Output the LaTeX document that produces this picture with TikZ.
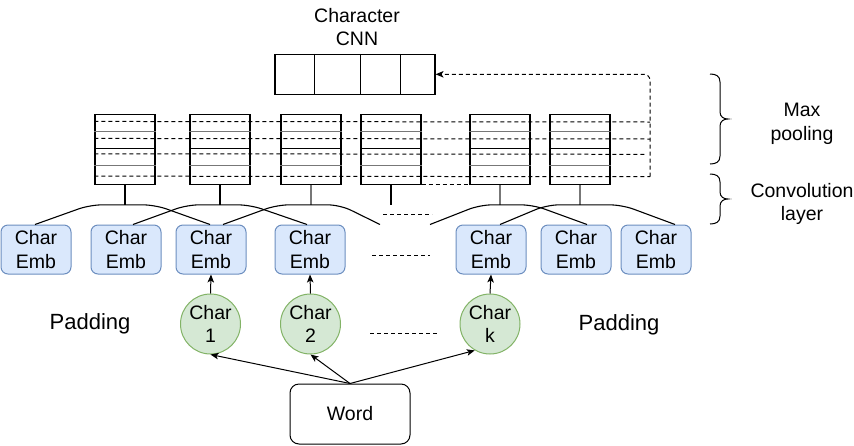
\documentclass[tikz,border=0pt]{standalone}
\usepackage{fontspec}
\setmainfont{Liberation Sans}
\usetikzlibrary{arrows.meta,calc}
\definecolor{embfill}{HTML}{DAE8FC}
\definecolor{embdraw}{HTML}{6C8EBF}
\definecolor{charfill}{HTML}{D5E8D4}
\definecolor{chardraw}{HTML}{82B366}
\definecolor{midgray}{HTML}{777777}
\begin{document}
\begin{tikzpicture}[x=1pt,y=-1pt,
  every node/.style={font=\fontsize{19.5}{23.5}\selectfont, inner sep=0pt},
  emb/.style={draw=embdraw, fill=embfill, rounded corners=7pt, minimum width=70pt, minimum height=49pt, align=center, line width=1pt},
  chr/.style={circle, draw=chardraw, fill=charfill, minimum size=60pt, align=center, line width=1pt},
  pool/.style={draw, minimum width=60pt, minimum height=70pt, line width=1.1pt},
  ln/.style={line width=1.1pt},
  dsh/.style={dash pattern=on 4pt off 3pt, line width=1pt},
  arr/.style={-{Stealth[length=8pt,width=6.5pt,inset=2pt]}, line width=1pt},
  conv/.style={line width=1.1pt, rounded corners=12pt},
  lbl/.style={align=center}]

\useasboundingbox (0,0) rectangle (854,445);

% pooling boxes
\node[pool] (p1) at (125,149.3) {};
\node[pool] (p2) at (220,149.3) {};
\node[pool] (p3) at (311,149.3) {};
\node[pool] (p4) at (391,149.3) {};
\node[pool] (p5) at (500,149.3) {};
\node[pool] (p6) at (580,149.3) {};
\foreach \p in {p1,p2,p3,p4,p5,p6}{
  \draw[midgray, line width=1.3pt] ($(\p.north west)+(0,17.7)$) -- ($(\p.north east)+(0,17.7)$);
  \draw[ln] ($(\p.north west)+(0,35)$) -- ($(\p.north east)+(0,35)$);
  \draw[midgray, line width=1.3pt] ($(\p.north west)+(0,51.7)$) -- ($(\p.north east)+(0,51.7)$);
}

% character CNN box
\node[draw, line width=1.1pt, minimum width=160pt, minimum height=40pt] (cnn) at (355,74.3) {};
\draw[ln] ($(cnn.north west)+(40,0)$) -- ($(cnn.south west)+(40,0)$);
\draw[ln] ($(cnn.north west)+(86,0)$) -- ($(cnn.south west)+(86,0)$);
\draw[ln] ($(cnn.north west)+(126,0)$) -- ($(cnn.south west)+(126,0)$);
\node[lbl] (cnnlbl) at (357,27) {Character\\CNN};

% dashed pooling lines
\coordinate (turnb) at (650,176.7);
\coordinate (turnt) at (650,74.3);
\draw[dsh] ($(p1.north west)+(0,7.7)$) -- (650,122);
\draw[dsh] ($(p1.north west)+(0,24.7)$) -- (650,139);
\draw[dsh] ($(p1.north west)+(0,40)$) -- (645,154.3);
\draw[dsh] ($(p1.north west)+(0,62.4)$) -- (turnb);
\draw[dsh, arr, rounded corners=6pt] (turnb) -- (turnt) -- (cnn.east);
\draw[dsh] (p4.south east) -- (p5.south west);

% Char Emb boxes
\node[emb] (e1) at (36,249.5) {Char\\Emb};
\node[emb] (e2) at (126,249.5) {Char\\Emb};
\node[emb] (e3) at (211,249.5) {Char\\Emb};
\node[emb] (e4) at (310,249.5) {Char\\Emb};
\node[emb] (e5) at (491,249.5) {Char\\Emb};
\node[emb] (e6) at (576,249.5) {Char\\Emb};
\node[emb] (e7) at (656,249.5) {Char\\Emb};

% stems
\foreach \p in {p1,p2,p4}{ \draw[ln] (\p.south) -- ++(0,20); }
\foreach \p in {p3,p5,p6}{ \draw[ln, midgray] (\p.south) -- ++(0,20); }

% convolution curves
\coordinate (cfree) at (380,224.5);
\coordinate (dfree) at (430,224.5);
\draw[conv] ($(e1.north)+(-1,0)$) -- ($(p1.south)+(-35,20)$) -- ($(p1.south)+(30,20)$) -- ($(e3.north)+(-1,0)$);
\draw[conv] ($(e2.north)+(7,0)$) -- ($(p2.south)+(-33,20)$) -- ($(p2.south)+(30,20)$) -- ($(e4.north)+(-3,0)$);
\draw[conv] ($(e3.north)+(12,0)$) -- ($(p3.south)+(-34,20)$) -- ($(p3.south)+(29,20)$) -- (cfree);
\draw[conv] (dfree) -- ($(p5.south)+(-20,20)$) -- ($(p5.south)+(33,20)$) -- ($(e6.north)+(11,0)$);
\draw[conv] ($(e5.north)+(9,0)$) -- ($(p6.south)+(-33,20)$) -- ($(p6.south)+(42,20)$) -- ($(e7.north)+(19,0)$);
\draw[dsh] (383,214) -- (432,214);
\draw[dsh] (372,255) -- (430,255);

% chars
\node[chr] (c1) at (210.5,324) {Char\\1};
\node[chr] (c2) at (310.5,324) {Char\\2};
\node[chr] (ck) at (490,324) {Char\\k};
\draw[dsh] (370,333.3) -- (439,333.3);
\draw[arr] (c1.north) -- (e3.south);
\draw[arr] (c2.north) -- (e4.south);
\draw[arr] (ck.north) -- (e5.south);

% word
\node[draw, line width=1pt, rounded corners=9pt, minimum width=120pt, minimum height=60pt] (word) at (350,414) {Word};
\draw[arr] (word.north) -- (c1.south);
\draw[arr] (word.north) -- (c2.south);
\draw[arr] (word.north) -- (ck.240);

% labels
\node[font=\fontsize{22}{26}\selectfont] (padl) at (90,323.5) {Padding};
\node[font=\fontsize{22}{26}\selectfont] (padr) at (619,325) {Padding};
\node[lbl] (maxp) at (802,124) {Max\\pooling};
\node[lbl] (convl) at (802,204) {Convolution\\layer};

% braces
\draw[ln, line width=1pt] (710,74) .. controls (716,74) and (720,76) .. (720,82) -- (720,112) .. controls (720,117) and (724,119) .. (728,119) .. controls (724,119) and (720,121) .. (720,126) -- (720,156) .. controls (720,162) and (716,164) .. (710,164);
\draw[ln, line width=1pt] (710,174) .. controls (716,174) and (720,176) .. (720,182) -- (720,192) .. controls (720,197) and (724,199) .. (728,199) .. controls (724,199) and (720,201) .. (720,206) -- (720,216) .. controls (720,222) and (716,224) .. (710,224);
\end{tikzpicture}
\end{document}
